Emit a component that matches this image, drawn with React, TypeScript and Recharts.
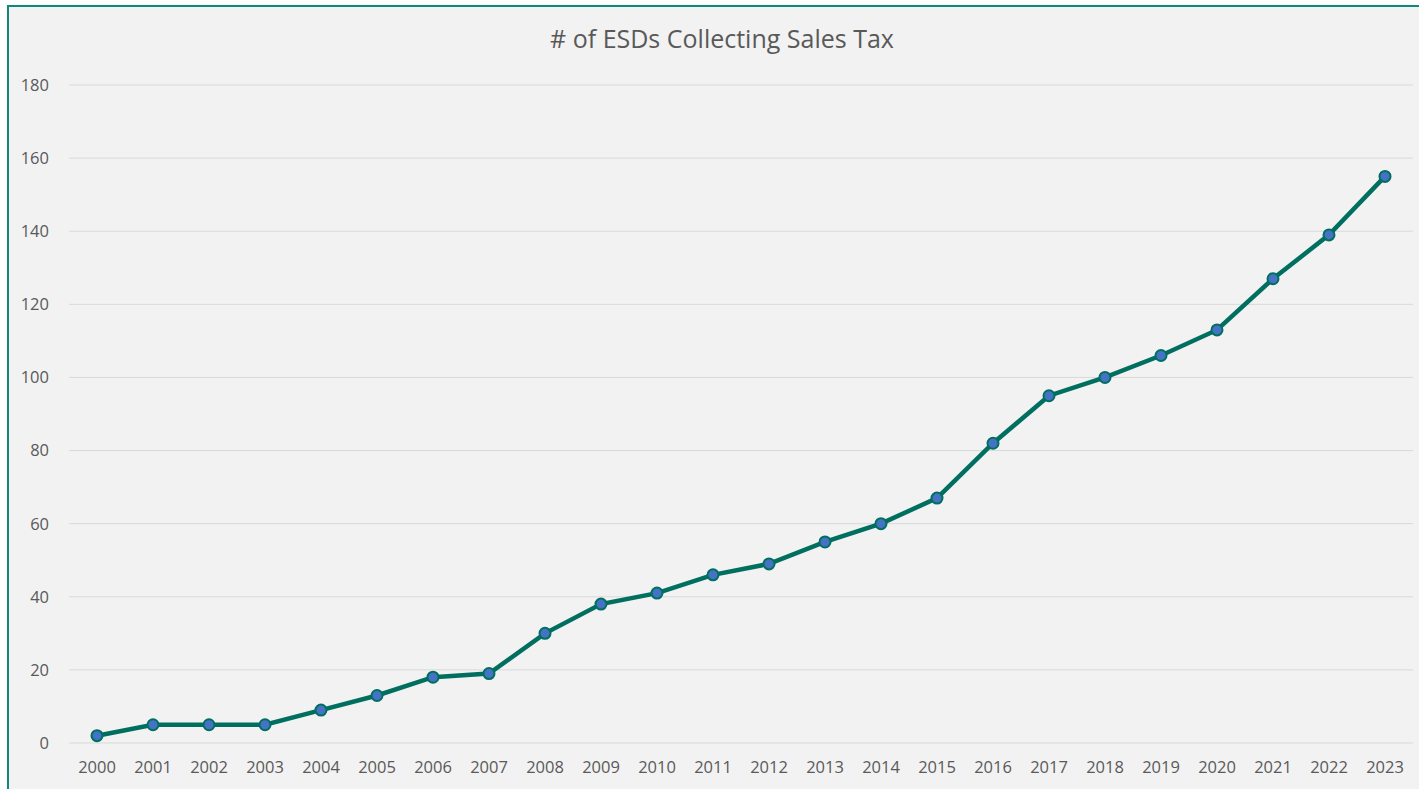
import { CartesianGrid, Line, LineChart, XAxis, YAxis } from 'recharts'

const years = [
  '2000', '2001', '2002', '2003', '2004', '2005', '2006', '2007', '2008', '2009', '2010', '2011',
  '2012', '2013', '2014', '2015', '2016', '2017', '2018', '2019', '2020', '2021', '2022', '2023',
]
const esdCounts = [2, 5, 5, 5, 9, 13, 18, 19, 30, 38, 41, 46, 49, 55, 60, 67, 82, 95, 100, 106, 113, 127, 139, 155]
const yTicks = [0, 20, 40, 60, 80, 100, 120, 140, 160, 180]

const data = years.map((year, i) => ({ year, count: esdCounts[i] }))

const TEAL = '#006f5f'
const TEXT = '#595959'
const FONT = '"Open Sans", "Noto Sans", sans-serif'

export default function App() {
  return (
    <div style={{ position: 'absolute', left: 0, top: 0, width: 1419, height: 789, overflow: 'hidden', background: '#fff' }}>
      {/* chart frame runs off the right and bottom edge */}
      <div style={{
        position: 'absolute', left: 7, top: 5, width: 1500, height: 900,
        border: '2px solid #14877b', background: '#f2f2f2',
      }} />
      <div style={{
        position: 'absolute', left: 0, top: 21, width: 1444, textAlign: 'center',
        fontFamily: FONT, fontSize: 25, color: TEXT,
      }}>
        # of ESDs Collecting Sales Tax
      </div>
      <div style={{ position: 'absolute', left: 0, top: 0 }}>
        <LineChart width={1419} height={789} data={data} margin={{ top: 85, right: 6, left: 0, bottom: 16 }}>
          <CartesianGrid vertical={false} stroke="#d9d9d9" strokeWidth={1} />
          <XAxis
            dataKey="year"
            axisLine={false}
            tickLine={false}
            tickSize={0}
            tickMargin={18}
            height={30}
            interval={0}
            padding={{ left: 28, right: 28 }}
            tick={{ fontSize: 16.5, fill: TEXT, fontFamily: FONT }}
          />
          <YAxis
            domain={[0, 180]}
            ticks={yTicks}
            axisLine={false}
            tickLine={false}
            tickSize={0}
            tickMargin={20}
            width={69}
            tick={{ fontSize: 16.5, fill: TEXT, fontFamily: FONT }}
          />
          <Line
            type="linear"
            dataKey="count"
            stroke={TEAL}
            strokeWidth={4.5}
            dot={{ r: 5.5, fill: '#4472c4', stroke: TEAL, strokeWidth: 2 }}
            isAnimationActive={false}
          />
        </LineChart>
      </div>
    </div>
  )
}
